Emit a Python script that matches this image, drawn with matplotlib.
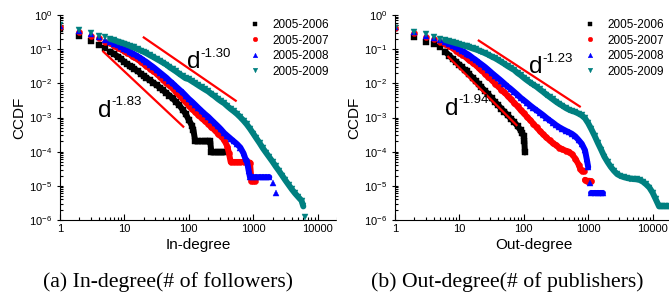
import matplotlib

matplotlib.use("Agg")
import matplotlib.pyplot as plt
from matplotlib.patches import Rectangle
from matplotlib.ticker import LogLocator, NullFormatter
from matplotlib.transforms import offset_copy

plt.rcParams["font.family"] = ["Liberation Sans", "DejaVu Sans"]
plt.rcParams["mathtext.fontset"] = "custom"
plt.rcParams["mathtext.rm"] = "Liberation Sans"

YEARS = ["2005-2006", "2005-2007", "2005-2008", "2005-2009"]
COLORS = ["#000000", "#ff0000", "#0000ff", "#008080"]
MARKERS = ["s", "o", "^", "v"]

# --- (a) in-degree CCDF ---
in06_deg = [1, 2, 3, 4, 5, 6, 7, 8, 9, 10, 11, 12, 13, 14, 16, 18, 20, 22, 25, 28, 32, 36, 40, 45, 50,
            56, 63, 71, 80, 89, 100, 112, 118, 126, 141, 158, 178, 200, 215, 224, 251, 282, 316, 355]
in06_ccdf = [0.39, 0.245, 0.174, 0.132, 0.105, 0.085, 0.071, 0.060, 0.051, 0.042, 0.037, 0.033, 0.030,
             0.027, 0.023, 0.019, 0.0166, 0.0145, 0.0123, 0.0105, 0.0088, 0.0074, 0.0062, 0.0052, 0.0044,
             0.0036, 0.0029, 0.0023, 0.0017, 0.0013, 0.00085, 0.00058, 0.00042, 0.0002, 0.0002, 0.0002,
             0.0002, 0.0002, 0.0002, 9.5e-5, 9.5e-5, 9.5e-5, 9.5e-5, 9.5e-5]

in07_deg = [1, 2, 3, 4, 5, 6, 7, 8, 9, 10, 11, 12, 13, 14, 16, 18, 20, 22, 25, 28, 32, 36, 40, 45, 50,
            56, 63, 71, 80, 89, 100, 112, 126, 141, 158, 178, 200, 224, 251, 282, 316, 355, 398, 420,
            447, 501, 562, 631, 708, 794, 891, 940, 1000, 1060]
in07_ccdf = [0.45, 0.32, 0.25, 0.21, 0.166, 0.148, 0.126, 0.110, 0.098, 0.087, 0.078, 0.071, 0.065,
             0.059, 0.050, 0.043, 0.037, 0.032, 0.027, 0.023, 0.0186, 0.0155, 0.0129, 0.0105, 0.0087,
             0.0071, 0.0056, 0.0045, 0.0035, 0.0028, 0.00224, 0.00178, 0.00145, 0.00117, 0.00095,
             0.00079, 0.00066, 0.00052, 0.00043, 0.00034, 0.00028, 0.00022, 0.00014, 9e-5, 5e-5, 5e-5,
             5e-5, 5e-5, 5e-5, 5e-5, 4.8e-5, 1.4e-5, 1.4e-5, 1.4e-5]

in08_deg = [1, 2, 3, 4, 5, 6, 7, 8, 9, 10, 11, 12, 13, 14, 16, 18, 20, 22, 25, 28, 32, 36, 40, 45, 50,
            56, 63, 71, 80, 89, 100, 112, 126, 141, 158, 178, 200, 224, 251, 282, 316, 355, 398, 447,
            501, 562, 631, 708, 760, 794, 850, 891, 1000, 1122, 1259, 1413, 1585, 1778, 1995, 2239]
in08_ccdf = [0.47, 0.34, 0.27, 0.224, 0.19, 0.166, 0.145, 0.129, 0.115, 0.102, 0.093, 0.085, 0.078,
             0.072, 0.062, 0.054, 0.047, 0.042, 0.035, 0.030, 0.0245, 0.0204, 0.0174, 0.0145, 0.0120,
             0.0100, 0.0081, 0.0066, 0.0054, 0.0044, 0.0035, 0.0029, 0.00234, 0.0019, 0.00155, 0.00126,
             0.00105, 0.00085, 0.00069, 0.00056, 0.00045, 0.00035, 0.00029, 0.00024, 0.0002, 0.000166,
             0.000132, 8.9e-5, 6e-5, 5.6e-5, 2.8e-5, 1.8e-5, 1.8e-5, 1.8e-5, 1.8e-5, 1.8e-5, 1.8e-5,
             1.8e-5, 1.2e-5, 6e-6]

in09_deg = [1, 2, 3, 4, 5, 6, 7, 8, 9, 10, 11, 12, 13, 14, 16, 18, 20, 22, 25, 28, 32, 36, 40, 45, 50,
            56, 63, 71, 80, 89, 100, 112, 126, 141, 158, 178, 200, 224, 251, 282, 316, 355, 398, 447,
            501, 562, 631, 708, 794, 891, 1000, 1122, 1259, 1413, 1585, 1778, 1995, 2239, 2512, 2818,
            3162, 3548, 3981, 4467, 5012, 5623, 6000, 6310]
in09_ccdf = [0.51, 0.36, 0.295, 0.25, 0.224, 0.2, 0.182, 0.166, 0.155, 0.145, 0.135, 0.126, 0.117,
             0.112, 0.100, 0.091, 0.083, 0.076, 0.066, 0.059, 0.051, 0.045, 0.040, 0.035, 0.030, 0.026,
             0.0224, 0.019, 0.0162, 0.0141, 0.0132, 0.0115, 0.0100, 0.0087, 0.0076, 0.0066, 0.0058,
             0.0049, 0.0042, 0.0035, 0.0030, 0.0026, 0.00214, 0.00178, 0.00151, 0.00126, 0.00102,
             0.00081, 0.00063, 0.00047, 0.00034, 0.000245, 0.000178, 0.000126, 9.3e-5, 6.9e-5, 5.1e-5,
             3.7e-5, 2.75e-5, 2e-5, 1.45e-5, 1.07e-5, 7.9e-6, 6e-6, 4.7e-6, 3.7e-6, 2.5e-6, 1.26e-6]

# --- (b) out-degree CCDF ---
out06_deg = [1, 2, 3, 4, 5, 6, 7, 8, 9, 10, 11, 12, 13, 14, 16, 18, 20, 22, 25, 28, 32, 36, 40, 45, 50,
             56, 63, 71, 80, 89, 95, 100, 102, 104]
out06_ccdf = [0.41, 0.234, 0.166, 0.141, 0.112, 0.085, 0.065, 0.050, 0.042, 0.035, 0.030, 0.025, 0.0224,
              0.019, 0.0148, 0.0117, 0.0093, 0.0078, 0.0060, 0.0048, 0.0036, 0.0028, 0.0023, 0.0018,
              0.00148, 0.00117, 0.00093, 0.00074, 0.00056, 0.00042, 0.00035, 0.00028, 0.0002, 9.5e-5]

out07_deg = [1, 2, 3, 4, 5, 6, 7, 8, 9, 10, 11, 12, 13, 14, 16, 18, 20, 22, 25, 28, 32, 36, 40, 45, 50,
             56, 63, 71, 80, 89, 100, 112, 126, 141, 158, 178, 200, 224, 251, 282, 316, 355, 398, 447,
             501, 562, 631, 708, 750, 794, 850, 891, 950, 1000, 1060, 1122]
out07_ccdf = [0.43, 0.30, 0.234, 0.195, 0.166, 0.141, 0.12, 0.105, 0.091, 0.079, 0.069, 0.062, 0.055,
              0.049, 0.040, 0.034, 0.028, 0.024, 0.019, 0.0155, 0.0123, 0.0098, 0.0081, 0.0065, 0.0054,
              0.0043, 0.0034, 0.0027, 0.0021, 0.00166, 0.00132, 0.00105, 0.00083, 0.00066, 0.00051,
              0.0004, 0.00032, 0.00026, 0.000214, 0.000178, 0.000155, 0.000132, 0.000117, 0.000107,
              0.0001, 8.3e-5, 6.3e-5, 4.2e-5, 3.2e-5, 2.8e-5, 2.8e-5, 1.5e-5, 1.4e-5, 1.4e-5, 1.4e-5,
              1.35e-5]

out08_deg = [1, 2, 3, 4, 5, 6, 7, 8, 9, 10, 11, 12, 13, 14, 16, 18, 20, 22, 25, 28, 32, 36, 40, 45, 50,
             56, 63, 71, 80, 89, 100, 112, 126, 141, 158, 178, 200, 224, 251, 282, 316, 355, 398, 447,
             501, 562, 631, 708, 794, 891, 950, 1000, 1060, 1122, 1259, 1413, 1585, 1700]
out08_ccdf = [0.44, 0.32, 0.25, 0.21, 0.182, 0.160, 0.141, 0.126, 0.112, 0.100, 0.089, 0.081, 0.074,
              0.068, 0.056, 0.048, 0.041, 0.036, 0.030, 0.025, 0.020, 0.0166, 0.0141, 0.0117, 0.0098,
              0.0081, 0.0068, 0.0056, 0.0046, 0.0038, 0.0032, 0.0027, 0.00224, 0.0019, 0.00162,
              0.00138, 0.00117, 0.00098, 0.00083, 0.00071, 0.0006, 0.00052, 0.00046, 0.00041, 0.00037,
              0.00033, 0.00028, 0.00022, 0.00017, 0.00011, 6e-5, 3.5e-5, 1.2e-5, 6e-6, 6e-6, 6e-6, 6e-6,
              6e-6]

out09_deg = [1, 2, 3, 4, 5, 6, 7, 8, 9, 10, 11, 12, 13, 14, 16, 18, 20, 22, 25, 28, 32, 36, 40, 45, 50,
             56, 63, 71, 80, 89, 100, 112, 126, 141, 158, 178, 200, 224, 251, 282, 316, 355, 398, 447,
             501, 562, 631, 708, 794, 891, 1000, 1122, 1259, 1413, 1585, 1778, 1995, 2239, 2512, 2818,
             3162, 3548, 3981, 4467, 5012, 5623, 6310, 7079, 7943, 8913, 10000, 11220, 12589, 14125,
             15849, 17783]
out09_ccdf = [0.43, 0.32, 0.275, 0.234, 0.204, 0.186, 0.170, 0.158, 0.148, 0.141, 0.132, 0.126, 0.120,
              0.115, 0.105, 0.098, 0.091, 0.085, 0.076, 0.069, 0.060, 0.054, 0.048, 0.042, 0.037, 0.032,
              0.028, 0.0245, 0.020, 0.0174, 0.0145, 0.0123, 0.0105, 0.0091, 0.0079, 0.0066, 0.0056,
              0.0047, 0.0040, 0.0034, 0.0029, 0.0025, 0.0022, 0.0019, 0.0017, 0.00155, 0.00145, 0.0013,
              0.00115, 0.00095, 0.00068, 0.00045, 0.00029, 0.00018, 0.000115, 7.2e-5, 5e-5, 3.6e-5,
              2.75e-5, 2.2e-5, 1.95e-5, 1.8e-5, 1.7e-5, 1.62e-5, 1.58e-5, 1.55e-5, 1.48e-5, 1.32e-5,
              1.1e-5, 8.9e-6, 6.3e-6, 4e-6, 2.5e-6, 2.5e-6, 2.5e-6, 2.5e-6]

# index runs where the raw points are so dense they merge into a solid band
runs_a = [[(5, None)], [(5, None)], [(5, 58)], [(5, 67)]]
runs_b = [[(5, None)], [(5, 51), (51, None)], [(5, 52), (53, None)], [(5, None)]]

# fitted power-law guide lines: degree range, ccdf range, exponent, label anchor
fits_a = [([20, 535], [0.22, 0.0031], "-1.30", (93, 0.028)),
          ([4.7, 82], [0.085, 5.4e-4], "-1.83", (3.9, 0.00105))]
fits_b = [([20, 740], [0.178, 0.0021], "-1.23", (122, 0.020)),
          ([6.7, 77], [0.060, 6.0e-4], "-1.94", (6.0, 0.0012))]

W, H = 669, 301
fig = plt.figure(figsize=(W / 100, H / 100), dpi=100)


def panel(left, series, runs, fits, xlabel, caption, cap_x, leg_x):
    ax = fig.add_axes([left / W, 1 - 220 / H, 277 / W, 205 / H])
    for (deg, cc), rr, lab, col, mk in zip(series, runs, YEARS, COLORS, MARKERS):
        for a, b in rr:
            ax.plot(deg[a:b], cc[a:b], color=col, lw=4.3, solid_capstyle="round", solid_joinstyle="round")
        ms = 3.7 if mk == "s" else 4.4
        ax.plot(deg, cc, ls="none", marker=mk, ms=ms, color=col, mec=col, mew=0.3, label=lab)
    for xs, ys, expo, (tx, ty) in fits:
        ax.plot(xs, ys, color="#ff0000", lw=1.6)
        ax.text(tx, ty, "d", fontsize=17.5, va="baseline")
        sup = offset_copy(ax.transData, fig=fig, x=9.6, y=8.2, units="points")
        ax.text(tx, ty, expo, fontsize=9.5, va="baseline", transform=sup)
    ax.set_xscale("log")
    ax.set_yscale("log")
    ax.set_xlim(1, 20000)
    ax.set_ylim(1e-6, 1)
    ax.set_xticks([1, 10, 100, 1000, 10000])
    ax.set_xticklabels(["1", "10", "100", "1000", "10000"])
    ax.yaxis.set_major_locator(LogLocator(base=10, numticks=10))
    ax.yaxis.set_minor_locator(LogLocator(base=10, subs=range(2, 10), numticks=20))
    ax.yaxis.set_minor_formatter(NullFormatter())
    for s in ("top", "right"):
        ax.spines[s].set_visible(False)
    ax.tick_params(which="both", direction="in", labelsize=8, width=0.8, pad=3)
    ax.tick_params(which="major", length=4)
    ax.tick_params(which="minor", length=2)
    ax.tick_params(axis="y", which="major", direction="inout", length=5)
    ax.set_xlabel(xlabel, fontsize=11, labelpad=3)
    ax.set_ylabel("CCDF", fontsize=11, labelpad=2)
    ax.legend(loc="upper left", bbox_to_anchor=(leg_x / W, 1 - 19 / H), bbox_transform=fig.transFigure,
              frameon=False, fontsize=8.5, handlelength=0.8, handletextpad=1.1, labelspacing=0.3,
              borderaxespad=0, borderpad=0, markerscale=0.75)
    fig.text(cap_x / W, 1 - 282 / H, caption, family=["Liberation Serif", "DejaVu Serif"],
             fontsize=15.7, ha="center", va="center")
    return ax


ax_a = panel(60, [(in06_deg, in06_ccdf), (in07_deg, in07_ccdf), (in08_deg, in08_ccdf),
                  (in09_deg, in09_ccdf)], runs_a, fits_a, "In-degree",
             "(a) In-degree(# of followers)", 168, 250)
ax_b = panel(395, [(out06_deg, out06_ccdf), (out07_deg, out07_ccdf), (out08_deg, out08_ccdf),
                   (out09_deg, out09_ccdf)], runs_b, fits_b, "Out-degree",
             "(b) Out-degree(# of publishers)", 507, 585)
ax_b.set_zorder(2)
# the left sub-figure is cropped where the right one begins
fig.add_artist(Rectangle((337 / W, 0), 28 / W, 1, transform=fig.transFigure, color="white", zorder=1))

fig.savefig("out.png", dpi=100)
